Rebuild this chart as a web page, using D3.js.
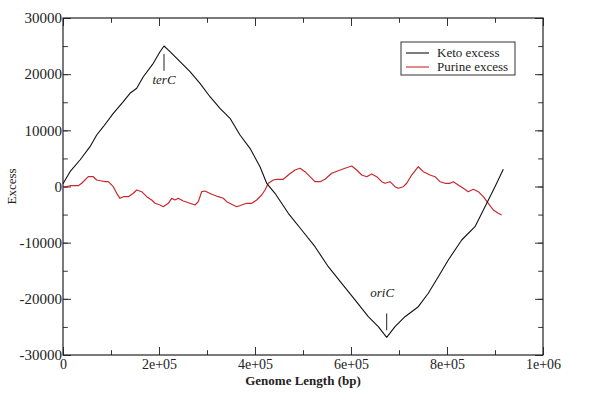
<!DOCTYPE html>
<html>
<head>
<meta charset="utf-8">
<script src="https://cdn.jsdelivr.net/npm/d3@7"></script>
<style>
  body { margin: 0; background: #fff; }
</style>
</head>
<body>
<div id="chart"></div>
<script>
    // genome position (bp) and cumulative excess
    keto_x = [0, 14583, 35417, 56250, 70208, 83958, 104792, 125625, 139583, 153542, 167292, 188125, 202083, 210417,
              222917, 243750, 264583, 285417, 306250, 327083, 347917, 368750, 389583, 410417, 424375, 441667, 469375,
              497292, 525000, 552708, 580625, 608333, 636042, 656875, 674375, 691667, 712500, 740208, 761042, 781875,
              802708, 830625, 858333, 879167, 900000, 917292]
    keto_y = [500, 2635, 4718, 7086, 9168, 10646, 13032, 15097, 16593, 17483, 19548, 21933, 23999, 25013,
              23999, 22218, 20438, 18373, 15987, 13922, 12142, 9168, 6801, 3525, 570, -1210, -4771,
              -7744, -10717, -14278, -17233, -20197, -23180, -24960, -26847, -24960, -23180, -21399, -19013, -16058,
              -13085, -9525, -7157, -3596, -35, 3062]

    purine_x = [0, 14583, 31875, 38958, 52708, 63125, 70208, 80625, 87500, 94375, 104792, 111875, 118750, 125625,
                136042, 146458, 153542, 163958, 174375, 184792, 191667, 202083, 208958, 219375, 226458, 233333, 240208,
                250625, 264583, 275000, 281875, 288958, 295833, 309792, 323542, 333958, 341042, 351458, 361875, 372292,
                382708, 393125, 403542, 413958, 420833, 427708, 438125, 445208, 458958, 469375, 483333, 493750, 504167,
                514583, 525000, 535417, 545833, 559792, 573542, 587500, 601458, 611875, 622292, 632708, 643125, 653542,
                663958, 670833, 681250, 691667, 698542, 708958, 716042, 726458, 740208, 750625, 764583, 775000, 785417,
                795833, 806250, 813125, 823542, 833958, 844375, 854792, 865208, 875625, 886042, 896458, 906875, 913958]
    purine_y = [-200, 140, 140, 570, 1745, 1745, 1157, 980, 855, 855, -35, -1210, -2100, -1815,
                -1815, -1210, -623, -925, -1815, -2400, -2990, -3290, -3596, -2990, -2100, -2400, -2100,
                -2580, -2990, -3290, -2700, -925, -800, -1390, -1815, -2100, -2700, -3170, -3596, -3290,
                -2990, -2990, -2400, -1513, -623, 570, 1157, 1282, 1282, 2047, 2937, 3240, 2635,
                1745, 855, 855, 1282, 2350, 2813, 3240, 3650, 2937, 2047, 1745, 2225, 1745,
                855, 570, 855, -35, -320, -35, 570, 2047, 3525, 2635, 2047, 1745, 855,
                570, 570, 855, 267, -320, -925, -500, -925, -1815, -2990, -4184, -4770, -5075]

    x_ticks = [0, 200000, 400000, 600000, 800000, 1000000]
    x_tick_labels = ["0", "2e+05", "4e+05", "6e+05", "8e+05", "1e+06"]
    y_ticks = [-30000, -20000, -10000, 0, 10000, 20000, 30000]

    series_names = ["Keto excess", "Purine excess"]
    series_colors = ["#111111", "#c8282d"]

    canvas = ({width: 600, height: 413})
    margin = ({top: 18, right: 57, bottom: 58, left: 63})

    x = d3.scaleLinear()
        .domain([0, 1000000])
        .range([margin.left, canvas.width - margin.right])

    y = d3.scaleLinear()
        .domain([-30000, 30000])
        .range([canvas.height - margin.bottom, margin.top])

    var svg = d3.select("div#chart").append("svg")
        .attr("width", canvas.width)
        .attr("height", canvas.height)

    minor_x = d3.range(0, 1000001, 100000)
    minor_y = d3.range(-30000, 30001, 5000)

    // inward ticks on all four sides, major + minor
    function tickSet(g, axisFn, scale, minor, major, labels, size) {
        g.call(axisFn(scale).tickValues(minor).tickSize(-size * 0.6).tickFormat(""))
        g.append("g").call(axisFn(scale).tickValues(major).tickSize(-size).tickFormat((d, i) => labels ? labels[i] : ""))
        g.selectAll(".domain").remove()
        g.selectAll("line").attr("stroke", "#333").attr("stroke-width", 1)
    }

    gb = svg.append("g").attr("transform", `translate(0,${y(-30000)})`)
    tickSet(gb, d3.axisBottom, x, minor_x, x_ticks, x_tick_labels, 8)
    gt = svg.append("g").attr("transform", `translate(0,${y(30000)})`)
    tickSet(gt, d3.axisTop, x, minor_x, x_ticks, null, 8)
    gl = svg.append("g").attr("transform", `translate(${x(0)},0)`)
    tickSet(gl, d3.axisLeft, y, minor_y, y_ticks, y_ticks.map(String), 8)
    gr = svg.append("g").attr("transform", `translate(${x(1000000)},0)`)
    tickSet(gr, d3.axisRight, y, minor_y, y_ticks, null, 8)

    gb.selectAll(".tick text").attr("y", 4).attr("dy", "0.71em")
    gl.selectAll(".tick text").attr("x", -1)

    svg.append("rect")
        .attr("x", x(0)).attr("y", y(30000))
        .attr("width", x(1000000) - x(0)).attr("height", y(-30000) - y(30000))
        .attr("fill", "none").attr("stroke", "#222").attr("stroke-width", 1.2)

    line = d3.line()
        .x(d => x(d[0]))
        .y(d => y(d[1]))

    svg.append("path")
        .attr("fill", "none")
        .attr("stroke", series_colors[1])
        .attr("stroke-width", 1.2)
        .attr("stroke-linejoin", "round")
        .attr("d", line(d3.zip(purine_x, purine_y)))

    svg.append("path")
        .attr("fill", "none")
        .attr("stroke", series_colors[0])
        .attr("stroke-width", 1.1)
        .attr("stroke-linejoin", "round")
        .attr("d", line(d3.zip(keto_x, keto_y)))

    // terC / oriC markers
    svg.append("line")
        .attr("x1", x(210417)).attr("x2", x(210417))
        .attr("y1", y(23600)).attr("y2", y(20600))
        .attr("stroke", "#222")
    svg.append("text")
        .attr("x", x(210417)).attr("y", y(18200))
        .attr("text-anchor", "middle").attr("font-style", "italic")
        .text("terC")
    svg.append("line")
        .attr("x1", x(674375)).attr("x2", x(674375))
        .attr("y1", y(-25600)).attr("y2", y(-22600))
        .attr("stroke", "#222")
    svg.append("text")
        .attr("x", x(665000)).attr("y", y(-19600))
        .attr("text-anchor", "middle").attr("font-style", "italic")
        .text("oriC")

    // axis titles
    svg.append("text")
        .attr("x", x(500000)).attr("y", 385)
        .attr("text-anchor", "middle").attr("font-weight", "bold")
        .text("Genome Length (bp)")
    svg.append("text")
        .attr("transform", `translate(16,${y(0)}) rotate(-90)`)
        .attr("text-anchor", "middle")
        .text("Excess")

    // legend
    legend = svg.append("g").attr("transform", "translate(401,42)")
    legend.append("rect")
        .attr("width", 114).attr("height", 33)
        .attr("fill", "#fff").attr("stroke", "#333").attr("stroke-width", 1)
    series_names.forEach(function(name, i) {
        legend.append("line")
            .attr("x1", 5).attr("x2", 28)
            .attr("y1", 11 + i * 14).attr("y2", 11 + i * 14)
            .attr("stroke", series_colors[i]).attr("stroke-width", 1.1)
        legend.append("text")
            .attr("x", 36).attr("y", 15 + i * 14)
            .text(name)
    })

    svg.selectAll("text")
        .style("font-family", "Liberation Serif")
        .style("font-size", "13px")
        .style("fill", "#222")
    gl.selectAll(".tick text").style("font-size", "15px")
    gb.selectAll(".tick text").style("font-size", "14px")
</script>
</body>
</html>
